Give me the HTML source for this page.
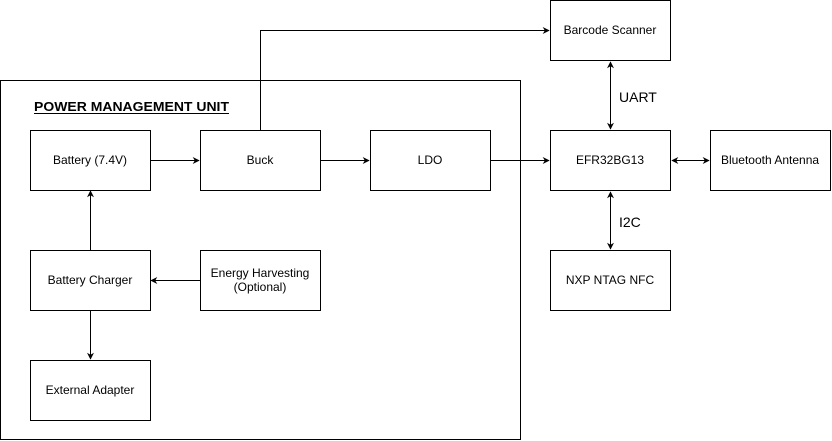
<!DOCTYPE html>
<html><head><meta charset="utf-8"><style>
html,body{margin:0;padding:0;background:#fff;}
svg{display:block;font-family:"Liberation Sans",Arial,sans-serif;}
</style></head><body>
<svg width="832" height="441" viewBox="0 0 832 441" xmlns="http://www.w3.org/2000/svg">
<defs>
<marker id="a" viewBox="0 0 10 10" refX="9" refY="5" markerWidth="7" markerHeight="7" orient="auto-start-reverse" markerUnits="userSpaceOnUse">
<path d="M0,0 L10,5 L0,10 L3,5 z" fill="#000"/></marker>
</defs>
<g fill="#fff" stroke="#000" stroke-width="1">
<rect x="0.5" y="80.5" width="520" height="359"/>
<rect x="30.5" y="130.5" width="120" height="60"/>
<rect x="200.5" y="130.5" width="120" height="60"/>
<rect x="370.5" y="130.5" width="120" height="60"/>
<rect x="550.5" y="130.5" width="120" height="60"/>
<rect x="710.5" y="130.5" width="120" height="60"/>
<rect x="550.5" y="0.5" width="120" height="60"/>
<rect x="550.5" y="250.5" width="120" height="60"/>
<rect x="30.5" y="250.5" width="120" height="60"/>
<rect x="200.5" y="250.5" width="120" height="60"/>
<rect x="30.5" y="360.5" width="120" height="60"/>
</g>
<g stroke="#000" stroke-width="1" fill="none">
<path d="M150.5 160.5 H199" marker-end="url(#a)"/>
<path d="M320.5 160.5 H369" marker-end="url(#a)"/>
<path d="M490.5 160.5 H549" marker-end="url(#a)"/>
<path d="M672 160.5 H709" marker-start="url(#a)" marker-end="url(#a)"/>
<path d="M260.5 130 V30.5 H549" marker-end="url(#a)"/>
<path d="M610.5 62 V129" marker-start="url(#a)" marker-end="url(#a)"/>
<path d="M610.5 192 V249" marker-start="url(#a)" marker-end="url(#a)"/>
<path d="M90.5 250 V191" marker-end="url(#a)"/>
<path d="M200 280.5 H151" marker-end="url(#a)"/>
<path d="M90.5 310.5 V359" marker-end="url(#a)"/>
</g>
<g font-size="12" text-anchor="middle" fill="#000">
<text x="90" y="164">Battery (7.4V)</text>
<text x="260" y="164">Buck</text>
<text x="430" y="164">LDO</text>
<text x="610" y="164">EFR32BG13</text>
<text x="770" y="164">Bluetooth Antenna</text>
<text x="610" y="34">Barcode Scanner</text>
<text x="610" y="284">NXP NTAG NFC</text>
<text x="90" y="284">Battery Charger</text>
<text x="260" y="277">Energy Harvesting</text>
<text x="260" y="291">(Optional)</text>
<text x="90" y="394">External Adapter</text>
</g>
<text x="34" y="111" font-size="12.5" font-weight="bold" textLength="195" lengthAdjust="spacingAndGlyphs">POWER MANAGEMENT UNIT</text>
<line x1="34" y1="113.5" x2="229" y2="113.5" stroke="#000" stroke-width="1"/>
<text x="619" y="102" font-size="14">UART</text>
<text x="619" y="227" font-size="14">I2C</text>
</svg>
</body></html>
